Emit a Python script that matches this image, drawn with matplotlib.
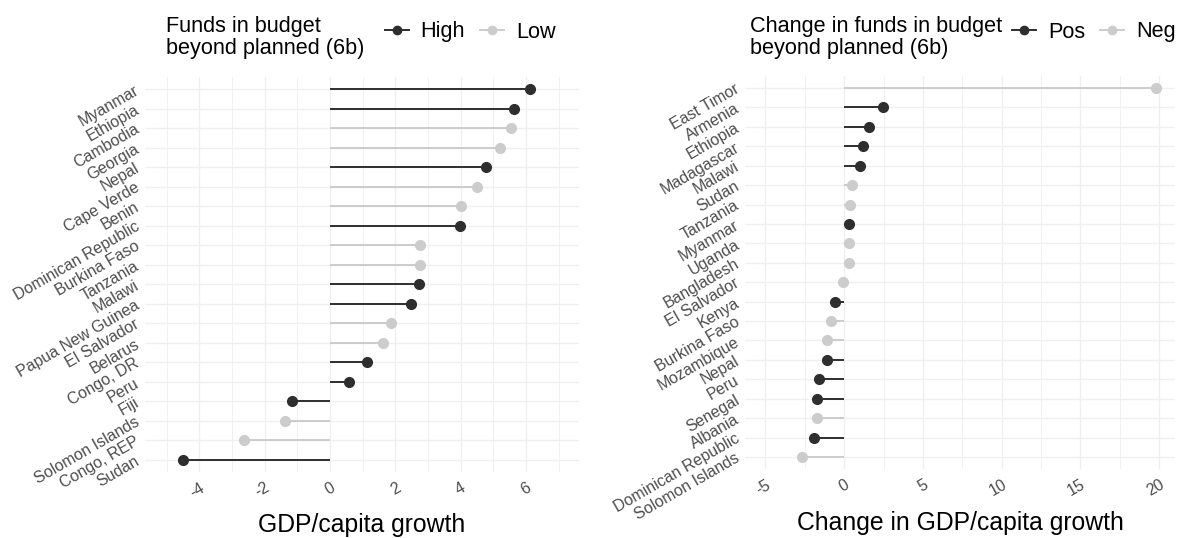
import matplotlib
matplotlib.use("Agg")
import matplotlib.pyplot as plt
from matplotlib.lines import Line2D
import numpy as np

plt.rcParams['font.family'] = ['Liberation Sans', 'DejaVu Sans']

# ---------------- data ----------------
countries_left = ["Myanmar", "Ethiopia", "Cambodia", "Georgia", "Nepal", "Cape Verde",
                  "Benin", "Dominican Republic", "Burkina Faso", "Tanzania", "Malawi",
                  "Papua New Guinea", "El Salvador", "Belarus", "Congo, DR", "Peru",
                  "Fiji", "Solomon Islands", "Congo, REP", "Sudan"]
growth_left = [6.13, 5.62, 5.55, 5.20, 4.77, 4.51, 4.01, 3.97, 2.74, 2.74, 2.72,
               2.47, 1.88, 1.63, 1.12, 0.58, -1.16, -1.37, -2.63, -4.51]
group_left = ["High", "High", "Low", "Low", "High", "Low", "Low", "High", "Low", "Low",
              "High", "High", "Low", "Low", "High", "High", "High", "Low", "Low", "High"]

countries_right = ["East Timor", "Armenia", "Ethiopia", "Madagascar", "Malawi", "Sudan",
                   "Tanzania", "Myanmar", "Uganda", "Bangladesh", "El Salvador", "Kenya",
                   "Burkina Faso", "Mozambique", "Nepal", "Peru", "Senegal", "Albania",
                   "Dominican Republic", "Solomon Islands"]
growth_right = [19.82, 2.43, 1.56, 1.19, 1.03, 0.49, 0.35, 0.33, 0.31, 0.31, -0.07,
                -0.61, -0.86, -1.07, -1.10, -1.63, -1.70, -1.70, -1.89, -2.65]
group_right = ["Neg", "Pos", "Pos", "Pos", "Pos", "Neg", "Neg", "Pos", "Neg", "Neg",
               "Neg", "Pos", "Neg", "Neg", "Pos", "Pos", "Pos", "Neg", "Pos", "Neg"]

left_levels = ["High", "Low"]
right_levels = ["Pos", "Neg"]
left_ticks = [-4, -2, 0, 2, 4, 6]
right_ticks = [-5, 0, 5, 10, 15, 20]

# ---------------- style ----------------
DARK = "#2E2E2E"
LIGHT = "#CCCCCC"
GRID = "#EFEFEF"
TICKCOL = "#4D4D4D"
W, H = 1178, 538

fig = plt.figure(figsize=(W / 100, H / 100), dpi=100)


def panel(rect, countries, vals, groups, levels, ticks, minor_step, xlim, xlabel):
    ax = fig.add_axes(rect)
    n = len(countries)
    ypos = np.arange(n)[::-1]
    cmap = {levels[0]: DARK, levels[1]: LIGHT}
    for y, v, g in zip(ypos, vals, groups):
        ax.hlines(y, 0, v, color=cmap[g], lw=1.4, zorder=2)
        ax.plot([v], [y], 'o', color=cmap[g], ms=7, zorder=3)
    ax.set_xlim(*xlim)
    ax.set_ylim(-0.6, n - 1 + 0.6)
    ax.set_yticks(ypos)
    ax.set_yticklabels(countries)
    ax.set_xticks(ticks)
    ax.set_xticklabels([str(t) for t in ticks])
    minors = np.arange(ticks[0] - minor_step * 2, ticks[-1] + minor_step * 2, minor_step)
    minors = [m for m in minors if xlim[0] <= m <= xlim[1] and m not in ticks]
    ax.set_xticks(minors, minor=True)
    ax.grid(True, which='major', color=GRID, lw=0.9, zorder=0)
    ax.grid(True, which='minor', axis='x', color=GRID, lw=0.6, zorder=0)
    ax.set_axisbelow(True)
    for s in ax.spines.values():
        s.set_visible(False)
    ax.tick_params(which='both', length=0)
    for lab in ax.get_yticklabels():
        lab.set_rotation(30)
        lab.set_ha('right')
        lab.set_va('center')
        lab.set_rotation_mode('anchor')
        lab.set_fontsize(11.5)
        lab.set_color(TICKCOL)
    for lab in ax.get_xticklabels():
        lab.set_rotation(30)
        lab.set_ha('right')
        lab.set_va('top')
        lab.set_rotation_mode('anchor')
        lab.set_fontsize(11.5)
        lab.set_color(TICKCOL)
    ax.tick_params(axis='y', pad=5)
    ax.tick_params(axis='x', pad=6)
    ax.set_xlabel(xlabel, fontsize=17.8, color='black', labelpad=9)
    return ax


axL = panel([145 / W, 1 - 471.7 / H, 434 / W, 394.4 / H], countries_left, growth_left,
            group_left, left_levels, left_ticks, 1.0, (-5.66, 7.62), "GDP/capita growth")
axR = panel([745 / W, 1 - 468.7 / H, 430 / W, 392.4 / H], countries_right, growth_right,
            group_right, right_levels, right_ticks, 2.5, (-6.3, 21.0),
            "Change in GDP/capita growth")


def legend(title, x_title, x_keys, levels):
    fig.text(x_title / W, 1 - 16 / H, title, fontsize=15.6, va='top', ha='left',
             linespacing=1.05, color='black')
    handles = [Line2D([], [], color=c, marker='o', ms=6, lw=1.4)
               for c in (DARK, LIGHT)]
    fig.legend(handles, levels, ncol=2, loc='center left',
               bbox_to_anchor=(x_keys / W, 1 - 32 / H), frameon=False,
               fontsize=15.6, handlelength=1.1, handletextpad=0.55,
               columnspacing=0.7, borderpad=0, borderaxespad=0)


legend("Funds in budget\nbeyond planned (6b)", 166, 385, left_levels)
legend("Change in funds in budget\nbeyond planned (6b)", 750, 1012, right_levels)

fig.savefig("out.png", dpi=100)
